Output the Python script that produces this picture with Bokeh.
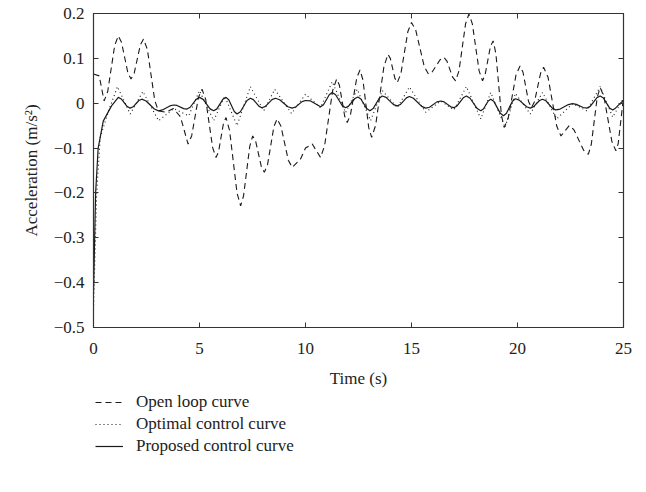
from bokeh.plotting import figure
from bokeh.models import FixedTicker, LinearAxis, Legend, LegendItem, Range1d
from bokeh.layouts import column
from bokeh.embed import file_html
from bokeh.resources import INLINE

# ---- data ----
t_open = [0.0, 0.27, 0.5, 0.67, 1.0, 1.17, 1.32, 1.62, 1.77, 1.92, 2.21, 2.36, 2.54, 2.89,
          3.06, 3.4, 3.77, 4.1, 4.46, 4.63, 4.95, 5.12, 5.29, 5.62, 5.78, 5.9, 6.13, 6.25,
          6.42, 6.77, 6.94, 7.08, 7.37, 7.51, 7.65, 7.92, 8.06, 8.21, 8.51, 8.66, 8.84, 9.19,
          9.37, 9.76, 10.0, 10.32, 10.5, 10.71, 10.9, 11.28, 11.47, 11.6, 11.85, 11.97, 12.12,
          12.42, 12.57, 12.71, 12.98, 13.12, 13.31, 13.7, 13.89, 14.0, 14.22, 14.33, 14.5,
          14.83, 15.0, 15.2, 15.6, 15.8, 15.98, 16.35, 16.53, 16.67, 16.94, 17.08, 17.24,
          17.55, 17.71, 17.87, 18.19, 18.35, 18.47, 18.72, 18.85, 18.98, 19.24, 19.37, 19.56,
          19.93, 20.12, 20.26, 20.52, 20.66, 20.8, 21.09, 21.23, 21.44, 21.85, 22.05, 22.44,
          22.66, 23.12, 23.34, 23.48, 23.76, 23.9, 24.08, 24.45, 24.64, 24.75, 25.0]
y_open = [0.065, 0.061, 0.005, 0.026, 0.129, 0.15, 0.136, 0.068, 0.054, 0.067, 0.13, 0.143,
          0.12, 0.006, -0.017, -0.02, -0.012, -0.03, -0.091, -0.073, 0.013, 0.031, 0.009,
          -0.099, -0.121, -0.108, -0.045, -0.032, -0.061, -0.2, -0.229, -0.206, -0.096, -0.073,
          -0.085, -0.142, -0.154, -0.137, -0.052, -0.035, -0.051, -0.127, -0.143, -0.125, -0.1,
          -0.091, -0.105, -0.121, -0.095, 0.028, 0.054, 0.04, -0.029, -0.043, -0.026, 0.057,
          0.074, 0.052, -0.054, -0.076, -0.049, 0.082, 0.109, 0.1, 0.055, 0.046, 0.066, 0.16,
          0.18, 0.163, 0.082, 0.065, 0.07, 0.097, 0.102, 0.094, 0.058, 0.05, 0.072, 0.177,
          0.199, 0.177, 0.072, 0.05, 0.063, 0.126, 0.139, 0.111, -0.026, -0.054, -0.034, 0.063,
          0.083, 0.069, 0.004, -0.01, 0.003, 0.067, 0.08, 0.058, -0.051, -0.073, -0.05, -0.059,
          -0.105, -0.114, -0.092, 0.013, 0.035, 0.014, -0.085, -0.106, -0.09, 0.013]

t_opt = [0.0, 0.15, 0.32, 0.71, 1.13, 1.73, 2.33, 3.07, 3.78, 4.49, 5.0, 5.67, 6.19, 6.77,
         7.4, 8.03, 8.55, 9.34, 10.0, 10.24, 10.71, 11.26, 11.89, 12.44, 13.07, 13.62, 14.33,
         14.9, 15.67, 16.38, 17.0, 17.59, 18.27, 18.74, 19.41, 19.9, 20.6, 21.18, 21.85,
         22.6, 23.27, 23.9, 24.49, 25.0]
y_opt = [-0.46, -0.2, -0.076, -0.017, 0.037, -0.024, 0.026, -0.039, -0.012, -0.028, 0.028,
         -0.039, 0.016, -0.05, 0.037, -0.017, 0.031, -0.023, 0.02, 0.01, -0.01, 0.048, -0.021,
         0.031, -0.039, 0.028, -0.01, 0.036, -0.02, 0.005, -0.015, 0.037, -0.035, 0.024,
         -0.054, 0.022, -0.024, 0.024, -0.035, -0.001, -0.017, 0.037, -0.031, 0.011]

t_prop = [0.0, 0.1, 0.22, 0.46, 0.85, 1.17, 1.31, 1.59, 1.73, 1.87, 2.14, 2.28, 2.48, 2.87,
          3.07, 3.25, 3.6, 3.78, 3.94, 4.25, 4.41, 4.56, 4.85, 5.0, 5.17, 5.5, 5.67, 5.82,
          6.1, 6.25, 6.38, 6.64, 6.77, 6.93, 7.24, 7.4, 7.54, 7.81, 7.95, 8.11, 8.42, 8.58,
          8.78, 9.17, 9.37, 9.53, 9.84, 10.0, 10.24, 10.71, 10.85, 11.12, 11.26, 11.42, 11.73,
          11.89, 12.03, 12.33, 12.47, 12.61, 12.9, 13.04, 13.19, 13.48, 13.62, 13.8, 14.15,
          14.33, 14.47, 14.76, 14.9, 15.09, 15.48, 15.67, 15.85, 16.2, 16.38, 16.54, 16.85,
          17.0, 17.15, 17.44, 17.59, 17.76, 18.1, 18.27, 18.39, 18.62, 18.74, 18.89, 19.19,
          19.34, 19.48, 19.76, 19.9, 20.08, 20.43, 20.6, 20.75, 21.04, 21.18, 21.34, 21.65,
          21.81, 22.01, 22.4, 22.6, 22.77, 23.1, 23.27, 23.43, 23.74, 23.9, 24.05, 24.34,
          24.49, 24.62, 25.0]
y_prop = [-0.42, -0.2, -0.1, -0.04, -0.006, 0.013, 0.0095, -0.0075, -0.011, -0.008, 0.006,
          0.009, 0.005, -0.013, -0.017, -0.015, -0.006, -0.004, -0.005, -0.012, -0.013, -0.009,
          0.009, 0.013, 0.0086, -0.0126, -0.017, -0.0126, 0.0086, 0.013, 0.0076, -0.0186,
          -0.024, -0.019, 0.006, 0.011, 0.008, -0.007, -0.01, -0.007, 0.008, 0.011, 0.0078,
          -0.0078, -0.011, -0.0085, 0.0035, 0.006, 0.005, -0.008, -0.0033, 0.019, 0.024, 0.019,
          -0.005, -0.01, -0.0065, 0.0105, 0.014, 0.0095, -0.0125, -0.017, -0.012, 0.011, 0.016,
          0.013, -0.003, -0.006, -0.003, 0.012, 0.015, 0.011, -0.007, -0.011, -0.009, 0.003,
          0.005, 0.003, -0.008, -0.01, -0.006, 0.012, 0.016, 0.011, -0.012, -0.017, -0.013,
          0.005, 0.009, 0.0036, -0.0226, -0.028, -0.0225, 0.0045, 0.01, 0.007, -0.008, -0.011,
          -0.008, 0.006, 0.009, 0.0055, -0.0115, -0.015, -0.013, -0.003, -0.001, -0.0025,
          -0.0095, -0.011, -0.007, 0.012, 0.016, 0.0115, -0.0105, -0.015, -0.011, 0.007]

x_ticks = [0, 5, 10, 15, 20, 25]
y_ticks = [-0.5, -0.4, -0.3, -0.2, -0.1, 0, 0.1, 0.2]
y_tick_labels = ["\u22120.5", "\u22120.4", "\u22120.3", "\u22120.2", "\u22120.1", "0", "0.1", "0.2"]
series_names = ["Open loop curve", "Optimal control curve", "Proposed control curve"]

FONT = "Liberation Serif"
INK = "#1a1a1a"
STYLES = [dict(line_color=INK, line_width=1.1, line_dash="6 4"),
          dict(line_color=INK, line_width=1.1, line_dash="1 3"),
          dict(line_color=INK, line_width=1.2)]

p = figure(frame_width=530, frame_height=314, output_backend="svg", toolbar_location=None,
           x_range=Range1d(0, 25), y_range=Range1d(-0.5, 0.2),
           min_border_left=93, min_border_top=13, min_border_right=18, min_border_bottom=67)
p.background_fill_color = "white"
p.border_fill_color = "white"
p.outline_line_color = "#333333"
p.outline_line_width = 1.2
p.grid.visible = False

p.line(t_open, y_open, **STYLES[0])
p.line(t_opt, y_opt, **STYLES[1])
p.line(t_prop, y_prop, **STYLES[2])

def style_axis(ax):
    ax.major_tick_in = 5
    ax.major_tick_out = 0
    ax.minor_tick_in = 0
    ax.minor_tick_out = 0
    ax.axis_line_color = "#333333"
    ax.major_tick_line_color = "#333333"
    ax.major_label_text_font = FONT
    ax.major_label_text_font_size = "17px"
    ax.major_label_text_color = "#222222"

xa = p.xaxis[0]
xa.ticker = FixedTicker(ticks=x_ticks)
style_axis(xa)
xa.major_label_standoff = 15
xa.axis_label = "Time (s)"
xa.axis_label_text_font = FONT
xa.axis_label_text_font_style = "normal"
xa.axis_label_text_font_size = "17px"
xa.axis_label_text_color = "#222222"
xa.axis_label_standoff = 12

ya = p.yaxis[0]
ya.ticker = FixedTicker(ticks=y_ticks)
ya.major_label_overrides = {v: s for v, s in zip(y_ticks, y_tick_labels)}
style_axis(ya)
ya.major_label_standoff = 9
ya.axis_label = "Acceleration (m/s\u00b2)"
ya.axis_label_text_font = FONT
ya.axis_label_text_font_style = "normal"
ya.axis_label_text_font_size = "17px"
ya.axis_label_text_color = "#222222"
ya.axis_label_standoff = 10

top = LinearAxis(ticker=FixedTicker(ticks=x_ticks))
style_axis(top)
top.major_label_overrides = {v: "" for v in x_ticks}
top.major_label_standoff = 0
p.add_layout(top, "above")
right = LinearAxis(ticker=FixedTicker(ticks=y_ticks))
style_axis(right)
right.major_label_overrides = {v: "" for v in y_ticks}
right.major_label_standoff = 0
p.add_layout(right, "right")

# ---- legend panel below the chart (its frame is aligned with the chart's frame) ----
leg_fig = figure(width=641, height=80, output_backend="svg", toolbar_location=None,
                 x_range=Range1d(0, 1), y_range=Range1d(0, 1),
                 min_border=0, x_axis_type=None, y_axis_type=None)
leg_fig.outline_line_color = None
leg_fig.grid.visible = False
leg_fig.background_fill_color = "white"
leg_fig.border_fill_color = "white"
items = []
for name, st in zip(series_names, STYLES):
    # off-range sample line: only its style is shown, in the legend
    r = leg_fig.line(x=[-5, -4], y=[-5, -4], **st)
    items.append(LegendItem(label=name, renderers=[r]))

legend = Legend(items=items, location=(2, 18), orientation="vertical")
legend.border_line_alpha = 0
legend.background_fill_alpha = 0
legend.label_text_font = FONT
legend.label_text_font_size = "17px"
legend.label_text_color = "#222222"
legend.glyph_width = 28
legend.glyph_height = 18
legend.label_height = 18
legend.label_standoff = 13
legend.spacing = 2
legend.padding = 0
legend.margin = 0
leg_fig.add_layout(legend, "center")

layout = column(p, leg_fig, spacing=0)
open("out.html", "w").write(file_html(layout, INLINE))
